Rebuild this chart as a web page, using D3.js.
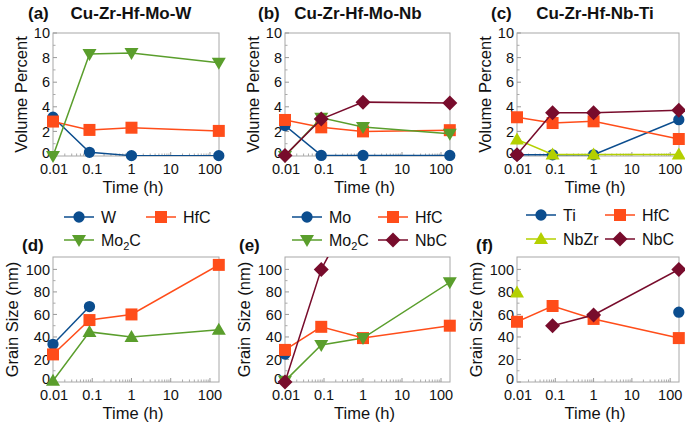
<!DOCTYPE html>
<html><head><meta charset="utf-8">
<script src="https://cdn.jsdelivr.net/npm/d3@7"></script>
<style>body{margin:0;background:#fff}svg{display:block}text{font-family:"Liberation Sans",Arial,sans-serif;fill:#111;font-weight:normal}</style>
</head><body><svg id="c" width="685" height="427"></svg>
<script>
// ---------------- data ----------------
const times = [0.01, 0.085, 1, 168];
const xTicks = [0.01, 0.1, 1, 10, 100];
const xTickLabels = ["0.01", "0.1", "1", "10", "100"];
const volTicks = [0, 2, 4, 6, 8, 10];
const grainTicks = [0, 20, 40, 60, 80, 100];

// (a) Cu-Zr-Hf-Mo-W volume percent
const volA_W    = [3.15, 0.3, 0.03, 0.03];
const volA_HfC  = [2.8, 2.12, 2.3, 2.04];
const volA_Mo2C = [0, 8.29, 8.37, 7.58];
// (b) Cu-Zr-Hf-Mo-Nb volume percent
const volB_Mo   = [2.47, 0.05, 0.05, 0.05];
const volB_HfC  = [2.93, 2.33, 2.0, 2.1];
const volB_Mo2C = [0, 3.1, 2.35, 1.8];
const volB_NbC  = [0.05, 3.0, 4.38, 4.3];
// (c) Cu-Zr-Hf-Nb-Ti volume percent
const volC_Ti   = [0.1, 0.1, 0.1, 2.95];
const volC_HfC  = [3.15, 2.68, 2.82, 1.38];
const volC_NbZr = [1.35, 0.12, 0.12, 0.12];
const volC_NbC  = [0.1, 3.52, 3.52, 3.72];
// (d) grain size
const grD_W    = [33.5, 67, null, null];
const grD_HfC  = [24.5, 55, 60, 104];
const grD_Mo2C = [1, 44.5, 40, 46.5];
// (e) grain size
const grE_Mo   = [24.8, null, null, null];
const grE_HfC  = [28.5, 49, 39, 50];
const grE_Mo2C = [1, 32.8, 39, 88.5];
const grE_NbC  = [0, 100, 170, 210];
// (f) grain size
const grF_Ti   = [null, null, null, 62];
const grF_HfC  = [53.5, 67.5, 56, 39];
const grF_NbZr = [79.5, null, null, null];
const grF_NbC  = [null, 50, 59.5, 100];

// ---------------- styles ----------------
const COL = {blue:"#0b4d8e", hfc:"#ff4d1a", green:"#5a9e2c", maroon:"#780c2c", lime:"#b4d000"};

const svg = d3.select("#c");

function markerPath(type){
  switch(type){
    case "circle": return d3.symbol(d3.symbolCircle, 100)();
    case "square": return "M-6,-6H6V6H-6Z";
    case "tri": return "M0,-7L7,5L-7,5Z";
    case "tridown": return "M0,7L7,-5L-7,-5Z";
    case "diamond": return "M0,-7.5L7.5,0L0,7.5L-7.5,0Z";
  }
}

let clipId = 0;
function panel(opt){
  const {x0,x1,y0,y1,ymax,yTicks,yMinor,ylabel,ylabelX,series,label,labelX,labelY,title,titleX} = opt;
  const x = d3.scaleLog().domain([0.01,170]).range([x0,x1]);
  const y = d3.scaleLinear().domain([0,ymax]).range([y1,y0]);
  const g = svg.append("g");
  // frame
  g.append("rect").attr("x",x0).attr("y",y0).attr("width",x1-x0).attr("height",y1-y0)
    .attr("fill","none").attr("stroke","#a8a8a8").attr("stroke-width",1);
  // y ticks
  yTicks.forEach((v,i)=>{
    g.append("line").attr("x1",x0).attr("x2",x0+4).attr("y1",y(v)).attr("y2",y(v)).attr("stroke","#999");
    g.append("text").attr("x",x0-3).attr("y",y(v)-(i===0?3:0)).attr("dy","0.36em").attr("text-anchor","end")
      .attr("font-size",14.5).text(v);
  });
  yMinor.forEach(v=>{
    g.append("line").attr("x1",x0).attr("x2",x0+2.5).attr("y1",y(v)).attr("y2",y(v)).attr("stroke","#aaa");
  });
  // x ticks
  xTicks.forEach((v,i)=>{
    if(i>0) g.append("line").attr("x1",x(v)).attr("x2",x(v)).attr("y1",y1).attr("y2",y1-4).attr("stroke","#999");
    g.append("text").attr("x",x(v)+(i===0?1:0)).attr("y",y1+18).attr("text-anchor","middle")
      .attr("font-size",14.5).text(xTickLabels[i]);
  });
  [0.01,0.1,1,10,100].forEach(d=>{
    for(let k=2;k<10;k++){
      const v=d*k; if(v>170) return;
      g.append("line").attr("x1",x(v)).attr("x2",x(v)).attr("y1",y1).attr("y2",y1-2.5).attr("stroke","#aaa");
    }
  });
  // labels
  g.append("text").attr("transform",`translate(${ylabelX},${(y0+y1)/2}) rotate(-90)`)
    .attr("text-anchor","middle").attr("font-size",16.5).text(ylabel);
  g.append("text").attr("x",(x0+x1)/2-3).attr("y",y1+37).attr("text-anchor","middle")
    .attr("font-size",16.5).text("Time (h)");
  g.append("text").attr("x",labelX).attr("y",labelY).attr("font-size",17).style("font-weight","bold").text(label);
  if(title) g.append("text").attr("x",titleX).attr("y",labelY).attr("text-anchor","middle")
    .attr("font-size",17).style("font-weight","bold").text(title);
  // clip
  const id = "clip"+(clipId++);
  svg.append("clipPath").attr("id",id).append("rect").attr("x",x0).attr("y",y0).attr("width",x1-x0).attr("height",y1-y0);
  series.forEach(s=>{
    const pts = times.map((t,i)=>({t,v:s.values[i]})).filter(d=>d.v!==null);
    g.append("path").attr("clip-path",`url(#${id})`).datum(pts)
      .attr("d",d3.line().x(d=>x(d.t)).y(d=>y(d.v)))
      .attr("fill","none").attr("stroke",s.color).attr("stroke-width",1.5);
    g.selectAll(null).data(pts.filter(d=>d.v<=ymax)).enter().append("path")
      .attr("d",markerPath(s.marker)).attr("fill",s.color)
      .attr("transform",d=>`translate(${x(d.t)},${y(d.v)})`);
  });
}

function legend(items){
  items.forEach(it=>{
    const g = svg.append("g");
    g.append("line").attr("x1",it.x-15).attr("x2",it.x+15).attr("y1",it.y).attr("y2",it.y)
      .attr("stroke",it.color).attr("stroke-width",1.5);
    g.append("path").attr("d",markerPath(it.marker)).attr("fill",it.color).attr("transform",`translate(${it.x},${it.y})`);
    const t = g.append("text").attr("x",it.x+22).attr("y",it.y).attr("dy","0.36em").attr("font-size",16);
    if(it.sub){
      t.append("tspan").text(it.name[0]);
      t.append("tspan").attr("font-size",11).attr("dy",4).text(it.name[1]);
      t.append("tspan").attr("dy",-4).text(it.name[2]);
    } else t.text(it.name);
  });
}

const S = (values,color,marker)=>({values,color,marker});

// top row
panel({x0:53,x1:219,y0:33,y1:156,ymax:10,yTicks:volTicks,yMinor:[1,3,5,7,9],ylabel:"Volume Percent",ylabelX:27,
  label:"(a)",labelX:28,labelY:19,title:"Cu-Zr-Hf-Mo-W",titleX:131,
  series:[S(volA_W,COL.blue,"circle"),S(volA_HfC,COL.hfc,"square"),S(volA_Mo2C,COL.green,"tridown")]});
panel({x0:285,x1:450,y0:33,y1:156,ymax:10,yTicks:volTicks,yMinor:[1,3,5,7,9],ylabel:"Volume Percent",ylabelX:259,
  label:"(b)",labelX:258,labelY:19,title:"Cu-Zr-Hf-Mo-Nb",titleX:358,
  series:[S(volB_Mo,COL.blue,"circle"),S(volB_HfC,COL.hfc,"square"),S(volB_Mo2C,COL.green,"tridown"),S(volB_NbC,COL.maroon,"diamond")]});
panel({x0:517,x1:679,y0:33,y1:156,ymax:10,yTicks:volTicks,yMinor:[1,3,5,7,9],ylabel:"Volume Percent",ylabelX:491,
  label:"(c)",labelX:491,labelY:19,title:"Cu-Zr-Hf-Nb-Ti",titleX:595,
  series:[S(volC_Ti,COL.blue,"circle"),S(volC_HfC,COL.hfc,"square"),S(volC_NbZr,COL.lime,"tri"),S(volC_NbC,COL.maroon,"diamond")]});

// bottom row
panel({x0:53,x1:219,y0:257,y1:382,ymax:111,yTicks:grainTicks,yMinor:[10,30,50,70,90],ylabel:"Grain Size (nm)",ylabelX:18,
  label:"(d)",labelX:22,labelY:251,
  series:[S(grD_W,COL.blue,"circle"),S(grD_HfC,COL.hfc,"square"),S(grD_Mo2C,COL.green,"tri")]});
panel({x0:285,x1:450,y0:257,y1:382,ymax:111,yTicks:grainTicks,yMinor:[10,30,50,70,90],ylabel:"Grain Size (nm)",ylabelX:250,
  label:"(e)",labelX:239,labelY:251,
  series:[S(grE_Mo,COL.blue,"circle"),S(grE_HfC,COL.hfc,"square"),S(grE_Mo2C,COL.green,"tridown"),S(grE_NbC,COL.maroon,"diamond")]});
panel({x0:517,x1:679,y0:257,y1:382,ymax:111,yTicks:grainTicks,yMinor:[10,30,50,70,90],ylabel:"Grain Size (nm)",ylabelX:482,
  label:"(f)",labelX:476,labelY:251,
  series:[S(grF_Ti,COL.blue,"circle"),S(grF_HfC,COL.hfc,"square"),S(grF_NbZr,COL.lime,"tri"),S(grF_NbC,COL.maroon,"diamond")]});

// legends
legend([
  {x:79,y:217,color:COL.blue,marker:"circle",name:"W"},
  {x:161,y:217,color:COL.hfc,marker:"square",name:"HfC"},
  {x:79,y:240,color:COL.green,marker:"tridown",name:["Mo","2","C"],sub:true},
  {x:307,y:217,color:COL.blue,marker:"circle",name:"Mo"},
  {x:393,y:217,color:COL.hfc,marker:"square",name:"HfC"},
  {x:307,y:240,color:COL.green,marker:"tridown",name:["Mo","2","C"],sub:true},
  {x:393,y:240,color:COL.maroon,marker:"diamond",name:"NbC"},
  {x:541,y:215,color:COL.blue,marker:"circle",name:"Ti"},
  {x:620,y:215,color:COL.hfc,marker:"square",name:"HfC"},
  {x:541,y:239,color:COL.lime,marker:"tri",name:"NbZr"},
  {x:620,y:239,color:COL.maroon,marker:"diamond",name:"NbC"}
]);
</script></body></html>
